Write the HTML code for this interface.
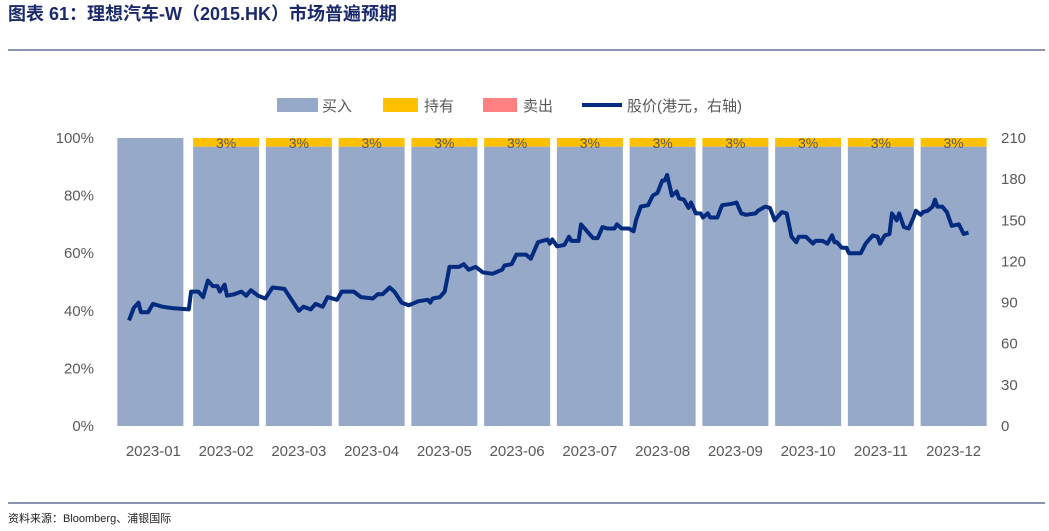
<!DOCTYPE html>
<html><head><meta charset="utf-8"><style>
body{margin:0;background:#fff;width:1049px;height:526px;overflow:hidden;font-family:"Liberation Sans","Noto Sans CJK SC",sans-serif}
</style></head><body>
<svg id="c" width="1049" height="526" xmlns="http://www.w3.org/2000/svg" font-family="Liberation Sans, Noto Sans CJK SC, sans-serif">
<text x="8" y="20" font-size="18" font-weight="bold" fill="#1a2a6c">图表 61：理想汽车-W（2015.HK）市场普遍预期</text>
<line x1="8" y1="50" x2="1045" y2="50" stroke="#1a2a6c" stroke-width="1"/>
<line x1="8" y1="503" x2="1045" y2="503" stroke="#1a2a6c" stroke-width="1"/>
<text x="8" y="522" font-size="11" fill="#222">资料来源：Bloomberg、浦银国际</text>
<g font-size="15" fill="#595959">
<rect x="277" y="98" width="41" height="14" fill="#97a9c9"/>
<text x="322" y="111">买入</text>
<rect x="383" y="98" width="35" height="14" fill="#ffc000"/>
<text x="424" y="111">持有</text>
<rect x="483" y="98" width="34" height="14" fill="#ff8080"/>
<text x="523" y="111">卖出</text>
<line x1="582" y1="105" x2="622" y2="105" stroke="#002b7f" stroke-width="4"/>
<text x="627" y="111">股价(港元，右轴)</text>
</g>
<g id="plot"></g>
</svg>
<script>
const categories=["2023-01","2023-02","2023-03","2023-04","2023-05","2023-06","2023-07","2023-08","2023-09","2023-10","2023-11","2023-12"];
const buyPct=[100,97,97,97,97,97,97,97,97,97,97,97];
const holdPct=[0,3,3,3,3,3,3,3,3,3,3,3];
const sellPct=[0,0,0,0,0,0,0,0,0,0,0,0];
const leftTicks=["0%","20%","40%","60%","80%","100%"];
const rightTicks=["0","30","60","90","120","150","180","210"];
const priceDays=[5,7,9,10,13,15,19,23,30,31,34,36,38,40,42,43,45,46,49,52,54,56,59,62,65,70,73,76,78,81,83,86,88,92,94,99,102,107,109,111,114,116,119,122,126,130,131,132,135,137,139,143,145,147,150,153,157,161,162,165,167,171,173,176,180,181,182,184,187,189,190,193,194,199,201,203,205,208,209,211,214,216,217,219,222,224,226,228,229,230,232,234,235,237,239,240,242,244,245,247,248,251,253,257,259,261,263,267,268,271,273,275,276,278,280,282,284,285,288,291,292,295,297,299,300,301,303,305,306,311,313,316,318,319,321,323,324,326,327,329,331,333,334,336,337,339,341,342,343,345,347,349,352,354,356];
const prices=[77,86,90,83,83,89,87,86,85,98,98,94,106,102,102,98,103,95,96,98,95,99,95,93,101,100,92,84,87,85,89,87,94,92,98,98,94,93,96,96,101,98,90,88,91,92,90,93,94,98,116,116,118,114,116,112,111,114,117,118,125,125,122,134,136,133,136,131,132,138,135,135,147,137,137,145,144,144,147,144,144,142,150,160,161,168,170,179,179,183,168,171,166,165,159,163,155,155,152,155,152,152,161,162,163,155,154,155,157,160,159,150,152,156,155,138,134,138,138,133,135,135,133,139,134,134,130,130,126,126,133,139,138,133,139,140,155,150,155,145,144,152,157,154,156,157,160,165,160,160,156,146,147,140,141];
const NS="http://www.w3.org/2000/svg";
const g=document.getElementById('plot');
const X0=117,X1=990,Y0=426,Y1=138;
const band=(X1-X0)/categories.length, barW=66;
const yL=v=>Y0-(v/100)*(Y0-Y1);
const yR=v=>Y0-(v/210)*(Y0-Y1);
const xD=d=>X0+(d/365)*(X1-X0);
function mk(t,a){const e=document.createElementNS(NS,t);for(const k in a)e.setAttribute(k,a[k]);g.appendChild(e);return e;}
categories.forEach((c,i)=>{
  const x=X0+band*i+(band-barW)/2+ (i===0?-3:0);
  const b=mk('rect',{x:x,y:yL(buyPct[i]),width:barW,height:Y0-yL(buyPct[i]),fill:'#97a9c9'});
  
  
  if(holdPct[i]>0){
    const h=mk('rect',{x:x,y:yL(buyPct[i]+holdPct[i]),width:barW,height:yL(buyPct[i])-yL(buyPct[i]+holdPct[i]),fill:'#ffc000'});
    
    
    const t=mk('text',{x:x+barW/2,y:yL(100)+10,'font-size':14,fill:'#595959','text-anchor':'middle'});
    t.textContent=holdPct[i]+'%';
    
    
  }
  const l=mk('text',{x:X0+band*i+band/2,y:456,'font-size':15,fill:'#595959','text-anchor':'middle'});
  l.textContent=c;
  
  
});
leftTicks.forEach((t,i)=>{
  const e=mk('text',{x:94,y:yL(i*20)+5,'font-size':15,fill:'#595959','text-anchor':'end'});
  e.textContent=t;
  
  
});
rightTicks.forEach((t,i)=>{
  const e=mk('text',{x:1001,y:yR(i*30)+5,'font-size':15,fill:'#595959'});
  e.textContent=t;
  
  
});
const d=prices.map((p,i)=>(i?'L':'M')+xD(priceDays[i]).toFixed(1)+','+yR(p).toFixed(1)).join(' ');
const ln=mk('path',{d:d,fill:'none',stroke:'#002b7f','stroke-width':4,'stroke-linejoin':'round'});


</script>
</body></html>
